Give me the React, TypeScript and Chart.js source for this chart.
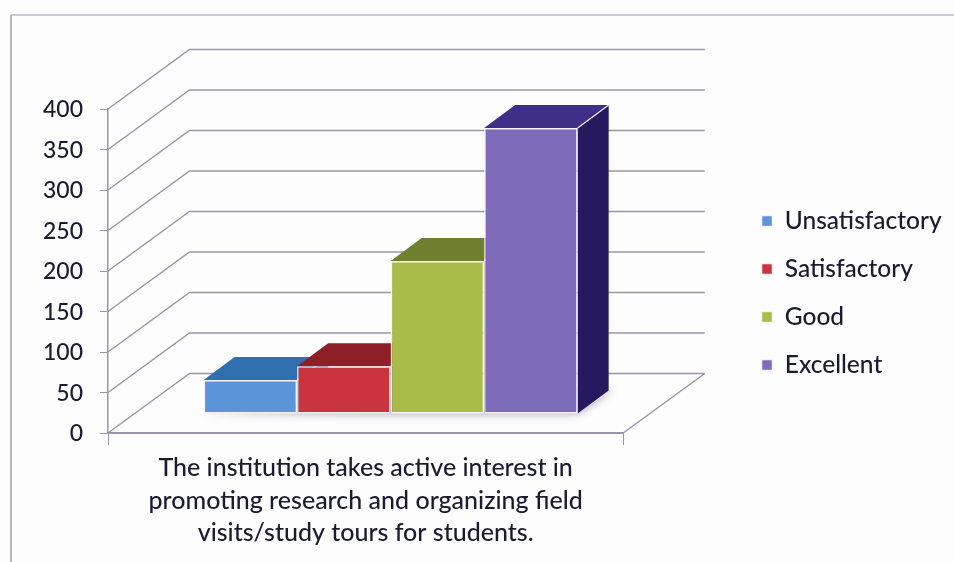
import React, { useEffect, useRef } from "react";
import { Chart, registerables } from "chart.js";

Chart.register(...registerables);

const categoryLabel = [
  "The institution takes active interest in",
  "promoting research and organizing field",
  "visits/study tours for students.",
];
const seriesNames = ["Unsatisfactory", "Satisfactory", "Good", "Excellent"];
const seriesValues = [42, 59, 189, 353];
const frontColors = ["#5B94D8", "#C9343F", "#A9BB48", "#7E6BBA"];
const topColors = ["#2F6FAE", "#8E1E28", "#6E8030", "#3F2F86"];
const sideColors = ["#234F86", "#6A1620", "#52601F", "#27195F"];
const yTicks = [0, 50, 100, 150, 200, 250, 300, 350, 400];

const WALL_DX = 81.5;
const WALL_DY = -59.5;
const BAR_SHIFT_X = 25;
const BAR_SHIFT_Y = -19;
const BAR_DX = 31;
const BAR_DY = -23;
const GRID = "#9C93A8";
const INK = "#1B1B30";
const FONT = "Lato";

const chart3d = {
  id: "chart3d",
  beforeDraw(chart: any) {
    const { ctx, width, height } = chart;
    ctx.save();
    ctx.fillStyle = "#FEFDFE";
    ctx.fillRect(0, 0, width, height);
    ctx.strokeStyle = "#9A92C4";
    ctx.lineWidth = 1.2;
    ctx.beginPath();
    ctx.moveTo(width, 15);
    ctx.lineTo(11, 15);
    ctx.strokeStyle = "#9A92C4";
    ctx.stroke();
    ctx.beginPath();
    ctx.moveTo(11, 15);
    ctx.lineTo(11, height);
    ctx.strokeStyle = "#B2ABB8";
    ctx.lineWidth = 1.8;
    ctx.stroke();
    ctx.restore();
  },
  afterLayout(chart: any) {
    const legend = chart.legend;
    const h = legend.bottom - legend.top;
    legend.left = 738;
    legend.right = 954;
    legend.top = 293 - h / 2;
    legend.bottom = legend.top + h;
  },
  beforeDatasetsDraw(chart: any) {
    const { ctx, chartArea, scales } = chart;
    ctx.save();
    ctx.strokeStyle = GRID;
    ctx.lineWidth = 1.4;
    scales.y.ticks.forEach((t: any) => {
      const y = scales.y.getPixelForValue(t.value);
      ctx.beginPath();
      ctx.moveTo(chartArea.left, y);
      ctx.lineTo(chartArea.left + WALL_DX, y + WALL_DY);
      ctx.lineTo(chartArea.right + WALL_DX, y + WALL_DY);
      ctx.stroke();
    });
    const y0 = scales.y.getPixelForValue(0);
    ctx.beginPath();
    ctx.moveTo(chartArea.right, y0);
    ctx.lineTo(chartArea.right + WALL_DX, y0 + WALL_DY);
    ctx.stroke();

    ctx.translate(BAR_SHIFT_X, BAR_SHIFT_Y);
    const metas = seriesNames.map((_, i) => chart.getDatasetMeta(i));
    const first = metas[0].data[0];
    const last = metas[metas.length - 1].data[0];
    ctx.save();
    ctx.shadowColor = "rgba(90,85,100,0.55)";
    ctx.shadowBlur = 9;
    ctx.fillStyle = "#E8E6EA";
    ctx.beginPath();
    ctx.moveTo(first.x - first.width / 2, first.base);
    ctx.lineTo(last.x + last.width / 2, last.base);
    ctx.lineTo(last.x + last.width / 2 + BAR_DX + 3, last.base + BAR_DY);
    ctx.lineTo(last.x + last.width / 2, last.base + BAR_DY);
    ctx.closePath();
    ctx.fill();
    ctx.restore();

    metas.forEach((meta: any, i: number) => {
      const bar = meta.data[0];
      const l = bar.x - bar.width / 2;
      const r = bar.x + bar.width / 2;
      ctx.fillStyle = sideColors[i];
      ctx.beginPath();
      ctx.moveTo(r, bar.y);
      ctx.lineTo(r + BAR_DX, bar.y + BAR_DY);
      ctx.lineTo(r + BAR_DX, bar.base + BAR_DY);
      ctx.lineTo(r, bar.base);
      ctx.closePath();
      ctx.fill();
      ctx.fillStyle = topColors[i];
      ctx.beginPath();
      ctx.moveTo(l, bar.y);
      ctx.lineTo(l + BAR_DX, bar.y + BAR_DY);
      ctx.lineTo(r + BAR_DX, bar.y + BAR_DY);
      ctx.lineTo(r, bar.y);
      ctx.closePath();
      ctx.fill();
      ctx.strokeStyle = "#F4F0F6";
      ctx.lineWidth = 1.2;
      ctx.beginPath();
      ctx.moveTo(r, bar.y);
      ctx.lineTo(r + BAR_DX, bar.y + BAR_DY);
      ctx.stroke();
    });
    ctx.restore();
  },
  beforeDatasetDraw(chart: any) {
    chart.ctx.save();
    chart.ctx.translate(BAR_SHIFT_X, BAR_SHIFT_Y);
  },
  afterDatasetDraw(chart: any) {
    chart.ctx.restore();
  },
};

export default function App() {
  const ref = useRef<HTMLCanvasElement | null>(null);
  useEffect(() => {
    const chart = new Chart(ref.current as HTMLCanvasElement, {
      type: "bar",
      data: {
        labels: [categoryLabel],
        datasets: seriesNames.map((name, i) => ({
          label: name,
          data: [seriesValues[i]],
          backgroundColor: frontColors[i],
          borderColor: "#F6F2F6",
          borderWidth: 1.5,
          borderSkipped: false,
          clip: false,
        })),
      } as any,
      options: {
        animation: false,
        responsive: false,
        devicePixelRatio: 1,
        datasets: { bar: { categoryPercentage: 0.726, barPercentage: 1 } },
        layout: { padding: { top: 109, left: 0, bottom: 0, right: 123 } },
        plugins: {
          title: { display: false },
          tooltip: { enabled: false },
          legend: {
            position: "right",
            labels: {
              boxWidth: 11,
              boxHeight: 11,
              padding: 23.5,
              color: INK,
              font: { family: FONT, size: 24.5, weight: "500" },
            },
          },
        },
        scales: {
          x: {
            afterFit: (s: any) => { s.height = 129; },
            border: { color: GRID, width: 2 },
            grid: { drawOnChartArea: false, drawTicks: true, tickLength: 12, color: GRID, offset: true },
            ticks: {
              color: INK,
              maxRotation: 0,
              autoSkip: false,
              padding: 7,
              font: { family: FONT, size: 25, lineHeight: 1.3, weight: "500" },
            },
          },
          y: {
            min: 0,
            max: 400,
            afterFit: (s: any) => { s.width = 108; },
            afterBuildTicks: (s: any) => { s.ticks = yTicks.map((value) => ({ value })); },
            border: { color: GRID, width: 1.5 },
            grid: { drawOnChartArea: false, drawTicks: true, tickLength: 8, color: GRID },
            ticks: {
              color: INK,
              padding: 17,
              labelOffset: 1,
              font: { family: FONT, size: 23, weight: "500" },
            },
          },
        },
      },
      plugins: [chart3d],
    } as any);
    return () => chart.destroy();
  }, []);
  return (
    <canvas
      ref={ref}
      width={954}
      height={562}
      style={{ position: "absolute", left: 0, top: 0, display: "block" }}
    />
  );
}
